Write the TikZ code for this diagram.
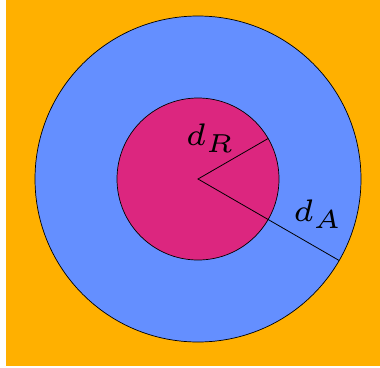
\documentclass[tikz,border=0pt]{standalone}
\usepackage{graphicx}
\newcommand{\biglab}[1]{\scalebox{5.2}{\fontsize{6}{7}\selectfont$d_{#1}$}}
\begin{document}
\begin{tikzpicture}[x=1pt,y=-1pt,
  ring/.style={draw=black,line width=0.7pt},
  radius line/.style={draw=black,line width=0.8pt},
  lab/.style={anchor=base west,inner sep=0pt}]
\definecolor{gold}{HTML}{FFB000}
\definecolor{ibmblue}{HTML}{648FFF}
\definecolor{ibmmag}{HTML}{DC267F}
\useasboundingbox (0,0) rectangle (380,367);
\fill[white] (0,0) rectangle (380,367);
\fill[gold] (6,0) rectangle (380,366);
\coordinate (c) at (198,179);
\draw[ring,fill=ibmblue] (c) circle[radius=163];
\draw[ring,fill=ibmmag] (c) circle[radius=81];
\coordinate (rR) at (268.15,138.5);
\coordinate (rA) at (339.16,260.5);
\draw[radius line] (rR) -- (c) -- (rA);
\node[lab] (dR) at (185.6,145) {\biglab{R}};
\node[lab] (dA) at (293.2,221) {\biglab{A}};
\end{tikzpicture}
\end{document}
